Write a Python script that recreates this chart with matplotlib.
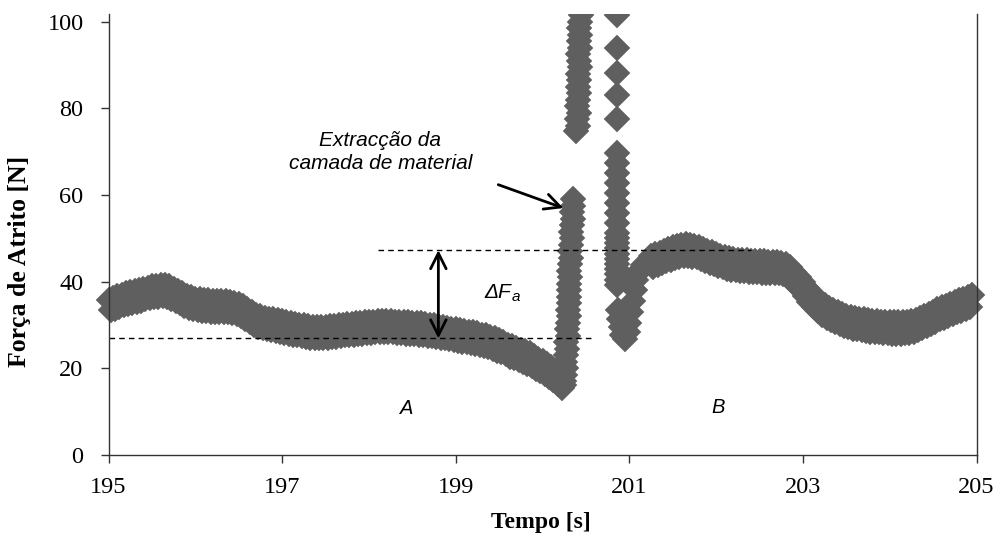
import numpy as np
import matplotlib
matplotlib.use("Agg")
from matplotlib import pyplot as plt
from matplotlib.patches import Rectangle

# friction force, before the spike (195.000 .. 200.250 s, 0.025 s steps)
force_before = [
    35.8, 33.4, 36.2, 33.8, 36.6, 34.2, 37.0, 34.6, 37.3, 34.9,
    37.6, 35.2, 37.9, 35.4, 38.1, 35.6, 38.3, 35.9, 38.6, 36.2,
    38.9, 36.4, 39.0, 36.5, 39.2, 36.6, 39.2, 36.5, 38.9, 36.1,
    38.4, 35.5, 37.8, 35.0, 37.3, 34.5, 36.8, 34.0, 36.4, 33.7,
    36.1, 33.4, 35.9, 33.3, 35.8, 33.2, 35.7, 33.1, 35.6, 33.0,
    35.6, 33.0, 35.5, 32.9, 35.5, 32.9, 35.4, 32.7, 35.2, 32.5,
    34.9, 32.0, 34.3, 31.4, 33.6, 30.7, 32.9, 30.1, 32.4, 29.6,
    32.0, 29.3, 31.7, 29.0, 31.5, 28.8, 31.3, 28.6, 31.1, 28.4,
    30.9, 28.2, 30.7, 28.0, 30.5, 27.8, 30.3, 27.6, 30.1, 27.4,
    29.9, 27.2, 29.7, 27.1, 29.6, 27.0, 29.5, 26.9, 29.5, 27.0,
    29.6, 27.1, 29.7, 27.2, 29.8, 27.3, 29.9, 27.4, 30.1, 27.6,
    30.2, 27.7, 30.3, 27.8, 30.4, 27.9, 30.5, 28.0, 30.6, 28.1,
    30.7, 28.2, 30.8, 28.3, 30.9, 28.4, 31.0, 28.4, 31.0, 28.4,
    30.9, 28.3, 30.8, 28.2, 30.7, 28.1, 30.6, 28.0, 30.6, 28.0,
    30.5, 27.9, 30.4, 27.8, 30.4, 27.7, 30.2, 27.5, 30.0, 27.4,
    29.9, 27.2, 29.7, 27.0, 29.5, 26.9, 29.4, 26.7, 29.2, 26.6,
    29.1, 26.4, 28.9, 26.2, 28.7, 26.0, 28.5, 25.8, 28.3, 25.6,
    28.1, 25.4, 27.8, 25.1, 27.6, 24.9, 27.3, 24.5, 26.9, 24.1,
    26.5, 23.7, 26.0, 23.2, 25.5, 22.7, 25.1, 22.3, 24.7, 21.9,
    24.3, 21.5, 23.9, 21.1, 23.5, 20.6, 22.8, 19.9, 22.2, 19.3,
    21.6, 18.7, 21.0, 18.1, 20.3, 17.3, 19.4, 16.3, 18.0, 15.4,
    16.2,
]
time_before = np.linspace(195.0, 200.25, len(force_before))

# rising edge of the spike
time_rise = [200.25, 200.26, 200.27, 200.26, 200.27, 200.28, 200.27, 200.29, 200.28, 200.29,
             200.30, 200.29, 200.30, 200.31, 200.30, 200.31, 200.32, 200.31, 200.32, 200.33,
             200.32, 200.33, 200.34, 200.33, 200.34, 200.35, 200.34, 200.35, 200.35]
force_rise = [17.0, 18.5, 20.0, 21.5, 23.0, 24.5, 26.0, 27.5, 29.0, 30.5,
              32.0, 33.5, 35.0, 36.5, 38.0, 39.5, 41.0, 42.5, 44.0, 45.5,
              47.0, 48.5, 50.0, 51.5, 53.0, 54.5, 56.0, 57.5, 59.0]

# peak (goes off the top of the axis)
time_peak = [200.39, 200.41, 200.40, 200.42, 200.40, 200.41, 200.42, 200.41, 200.42, 200.41,
             200.43, 200.42, 200.41, 200.43, 200.42, 200.43, 200.42, 200.43, 200.44, 200.43, 200.43]
force_peak = [74.7, 76.0, 77.5, 79.0, 80.5, 82.0, 83.5, 85.0, 86.5, 88.0,
              89.5, 91.0, 92.5, 94.0, 95.5, 97.0, 98.5, 100.0, 101.5, 103.0, 104.5]

# falling edge
force_fall = [101.6, 93.9, 88.2, 83.1, 77.5, 69.7, 67.4, 65.1, 62.8, 60.5,
              58.2, 55.9, 53.6, 51.3, 50.1, 48.9, 47.7, 46.5, 45.3, 44.1,
              42.9, 41.7, 40.5, 39.3]
time_fall = [200.855] * len(force_fall)

# dip and recovery
time_dip = [200.87, 200.88, 200.90, 200.92, 200.95, 200.98, 201.00, 201.02, 201.04, 201.06,
            201.08, 201.10, 201.13, 201.16, 201.20]
force_dip = [33.5, 31.5, 29.5, 27.8, 26.8, 28.5, 30.5, 33.0, 35.5, 38.0,
             40.5, 42.0, 43.0, 43.8, 44.3]

# after the spike (201.250 .. 204.950 s, 0.025 s steps)
force_after = [
    45.9, 43.5, 46.3, 43.9, 46.7, 44.3, 47.1, 44.7, 47.5, 45.1,
    47.9, 45.5, 48.2, 45.8, 48.5, 46.0, 48.6, 46.0, 48.5, 45.8,
    48.3, 45.6, 48.0, 45.2, 47.6, 44.8, 47.2, 44.4, 46.8, 44.0,
    46.4, 43.6, 46.0, 43.3, 45.7, 43.0, 45.4, 42.7, 45.2, 42.6,
    45.1, 42.5, 45.0, 42.4, 44.9, 42.3, 44.8, 42.2, 44.8, 42.2,
    44.7, 42.1, 44.7, 42.1, 44.6, 42.0, 44.6, 42.0, 44.5, 41.9,
    44.4, 41.7, 44.1, 41.1, 43.3, 40.2, 42.3, 39.2, 41.2, 38.0,
    39.9, 36.7, 38.6, 35.4, 37.3, 34.2, 36.2, 33.2, 35.3, 32.4,
    34.6, 31.7, 34.0, 31.2, 33.5, 30.7, 33.0, 30.2, 32.6, 29.8,
    32.2, 29.5, 31.9, 29.2, 31.7, 29.0, 31.5, 28.8, 31.3, 28.7,
    31.2, 28.5, 31.0, 28.4, 30.9, 28.3, 30.8, 28.2, 30.7, 28.1,
    30.6, 28.0, 30.6, 28.0, 30.6, 28.0, 30.6, 28.1, 30.7, 28.2,
    30.9, 28.5, 31.2, 28.8, 31.6, 29.3, 32.1, 29.8, 32.6, 30.3,
    33.1, 30.8, 33.6, 31.3, 34.1, 31.7, 34.5, 32.1, 34.9, 32.5,
    35.3, 32.9, 35.7, 33.3, 36.1, 33.7, 36.5, 34.1, 36.9,
]
time_after = np.linspace(201.25, 204.95, len(force_after))

level_low = 26.9
level_high = 47.3

time = np.concatenate([time_before, time_rise, time_peak, time_fall, time_dip, time_after])
force = np.concatenate([force_before, force_rise, force_peak, force_fall, force_dip, force_after])

fig = plt.figure(figsize=(9.93, 5.40), dpi=100)
ax = fig.add_axes([0.1093, 0.1574, 0.8741, 0.8167])

line, = ax.plot(time, force, linestyle='none', marker='D', markersize=13,
                markerfacecolor='#5f5f5f', markeredgecolor='#5f5f5f', markeredgewidth=0.3)
# markers may spill past the side spines but not over the top
clip = Rectangle((-0.05, -0.1), 1.1, 1.1, transform=ax.transAxes)
line.set_clip_path(clip)

# reference levels
ax.plot([195.0, 200.6], [level_low, level_low], color='black', lw=1, linestyle=(0, (4, 3)))
ax.plot([198.1, 202.4], [level_high, level_high], color='black', lw=1, linestyle=(0, (4, 3)))

# delta F arrow
ax.annotate('', xy=(198.8, level_high), xytext=(198.8, level_low),
            arrowprops=dict(arrowstyle='<->', lw=2, color='black', mutation_scale=28,
                            shrinkA=0, shrinkB=0))
txt = ax.text(199.48, 37.6, 'ΔF', fontsize=15, style='italic', family='Liberation Sans',
              ha='center', va='center')
ax.annotate('a', xy=(1.0, 0.0), xycoords=txt, xytext=(0.5, -2), textcoords='offset points',
            fontsize=11, style='italic', family='Liberation Sans', ha='left', va='bottom')

# annotation for material removal
ax.text(198.13, 69.9, 'Extracção da\ncamada de material', fontsize=15, style='italic',
        family='Liberation Sans', ha='center', va='center', linespacing=1.25)
ax.annotate('', xy=(200.24, 57.0), xytext=(199.49, 62.4),
            arrowprops=dict(arrowstyle='->', lw=2, color='black', mutation_scale=28,
                            shrinkA=0, shrinkB=0))

ax.text(198.44, 10.7, 'A', fontsize=14.5, style='italic', family='Liberation Sans',
        ha='center', va='center')
ax.text(202.02, 10.9, 'B', fontsize=14.5, style='italic', family='Liberation Sans',
        ha='center', va='center')

ax.set_xlim(195, 205)
ax.set_ylim(0, 101.8)
ax.set_xticks([195, 197, 199, 201, 203, 205])
ax.set_yticks([0, 20, 40, 60, 80, 100])

for lab in ax.get_xticklabels() + ax.get_yticklabels():
    lab.set_family('Liberation Serif')
    lab.set_fontsize(17.5)
ax.tick_params(axis='both', direction='out', length=6, width=1, color='#333333')
ax.tick_params(axis='y', pad=12)
ax.tick_params(axis='x', pad=10)

ax.spines['top'].set_visible(False)
for side in ['left', 'bottom', 'right']:
    ax.spines[side].set_color('#333333')
    ax.spines[side].set_linewidth(1)

fig.text(20 / 993, 0.515, 'Força de Atrito [N]', rotation=90, ha='center', va='center',
         fontsize=18.5, fontweight='bold', family='Liberation Serif')
fig.text(0.545, 0.033, 'Tempo [s]', ha='center', va='center',
         fontsize=17, fontweight='bold', family='Liberation Serif')

fig.savefig('out.png', dpi=100)
